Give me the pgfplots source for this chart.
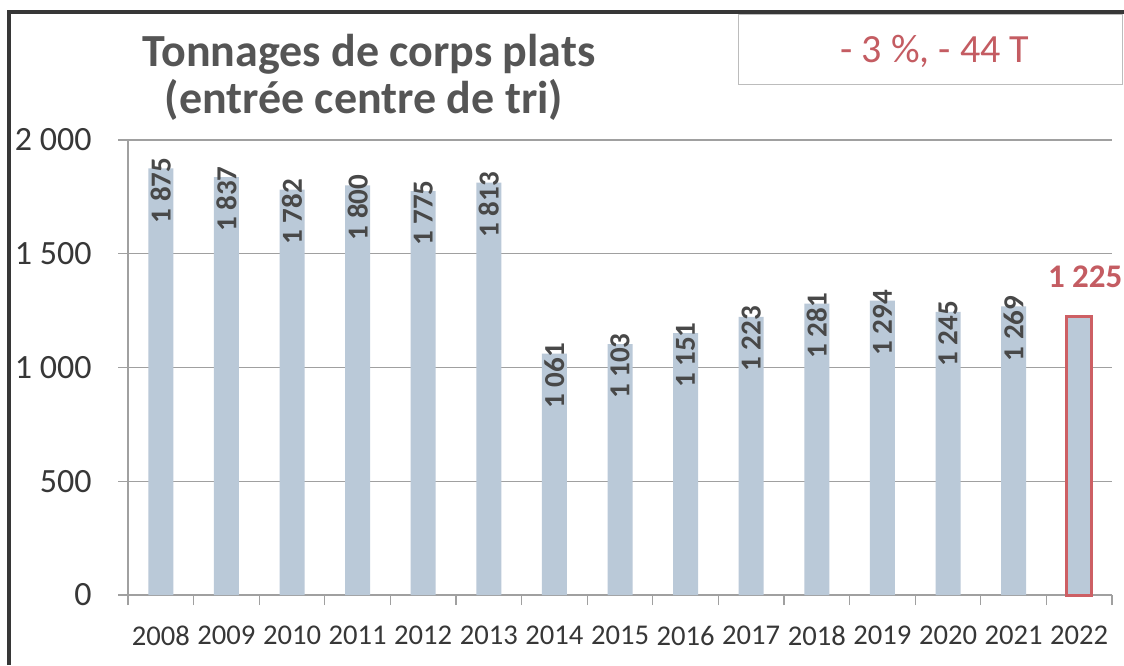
\documentclass[border=0pt]{standalone}
\usepackage{pgfplots}
\pgfplotsset{compat=1.18}
\usepackage{fontspec}
\setmainfont{Carlito}
\definecolor{barblue}{RGB}{186,201,216}
\definecolor{redlab}{RGB}{196,92,98}
\definecolor{redbar}{RGB}{205,95,100}
\definecolor{txtgray}{RGB}{55,55,55}
\definecolor{valgray}{RGB}{72,72,72}
\definecolor{titlegray}{RGB}{85,85,85}
\definecolor{gridgray}{RGB}{160,160,160}
\definecolor{framegray}{RGB}{55,55,55}
\begin{document}
\begin{tikzpicture}[x=1pt,y=1pt]
\useasboundingbox (0,0) rectangle (562,332.5);
\fill[white] (0,0) rectangle (562,332.5);
\draw[line width=1.6pt, framegray] (4.5,0) -- (4.5,326.5) -- (562,326.5);
\draw[line width=0.5pt, gridgray!70] (369,290) rectangle (561,325);
\node[anchor=base, text=redlab, font=\fontsize{20}{24}\selectfont] at (467.5,301) {- 3~\%, - 44~T};
\node[anchor=base, text=titlegray, font=\bfseries\fontsize{23}{27}\selectfont] at (184.5,299) {Tonnages de corps plats};
\node[anchor=base, text=titlegray, font=\bfseries\fontsize{23}{27}\selectfont] at (182,275.5) {(entrée centre de tri)};
\begin{axis}[
  at={(64pt,35pt)}, anchor=south west, scale only axis,
  width=492pt, height=227.5pt,
  xmin=-0.5, xmax=14.5, ymin=0, ymax=2000,
  ybar, bar width=12.5pt, bar shift=0pt,
  axis x line*=bottom, axis y line*=left,
  axis line style={gridgray, line width=0.6pt},
  tick align=outside, major tick length=5pt,
  tick style={gridgray, line width=0.6pt},
  ytick={0,500,1000,1500,2000},
  yticklabels={0,500,1~000,1~500,2~000},
  ymajorgrids, grid style={gridgray, line width=0.6pt},
  yticklabel style={anchor=east, inner sep=0pt, xshift=-13pt, text=txtgray, font=\fontsize{17}{20}\selectfont},
  xtick={-0.5,0.5,...,14.5},
  xticklabels={},
  extra x ticks={0,1,...,14},
  extra x tick labels={2008,2009,2010,2011,2012,2013,2014,2015,2016,2017,2018,2019,2020,2021,2022},
  extra x tick style={major tick length=0pt, grid=none},
  xticklabel style={anchor=north, inner sep=0pt, yshift=-15.5pt, text=txtgray, font=\fontsize{14.3}{16}\selectfont},
  clip=false,
]
\addplot[fill=barblue, draw=none, point meta=explicit symbolic, nodes near coords,
  nodes near coords style={yshift=5.5pt, rotate=90, anchor=east, inner sep=0pt, text=valgray, font=\bfseries\fontsize{14.5}{16}\selectfont}]
coordinates {
(0,1875) [1~875]
(1,1837) [1~837]
(2,1782) [1~782]
(3,1800) [1~800]
(4,1775) [1~775]
(5,1813) [1~813]
(6,1061) [1~061]
(7,1103) [1~103]
(8,1151) [1~151]
(9,1223) [1~223]
(10,1281) [1~281]
(11,1294) [1~294]
(12,1245) [1~245]
(13,1269) [1~269]
};
\addplot[fill=barblue, draw=redbar, line width=1.5pt, point meta=explicit symbolic, nodes near coords,
  nodes near coords style={anchor=base, inner sep=0pt, yshift=14.5pt, xshift=3pt, text=redlab, font=\bfseries\fontsize{16.5}{18}\selectfont}]
coordinates {(14,1225) [1~225]};
\end{axis}
\end{tikzpicture}
\end{document}
